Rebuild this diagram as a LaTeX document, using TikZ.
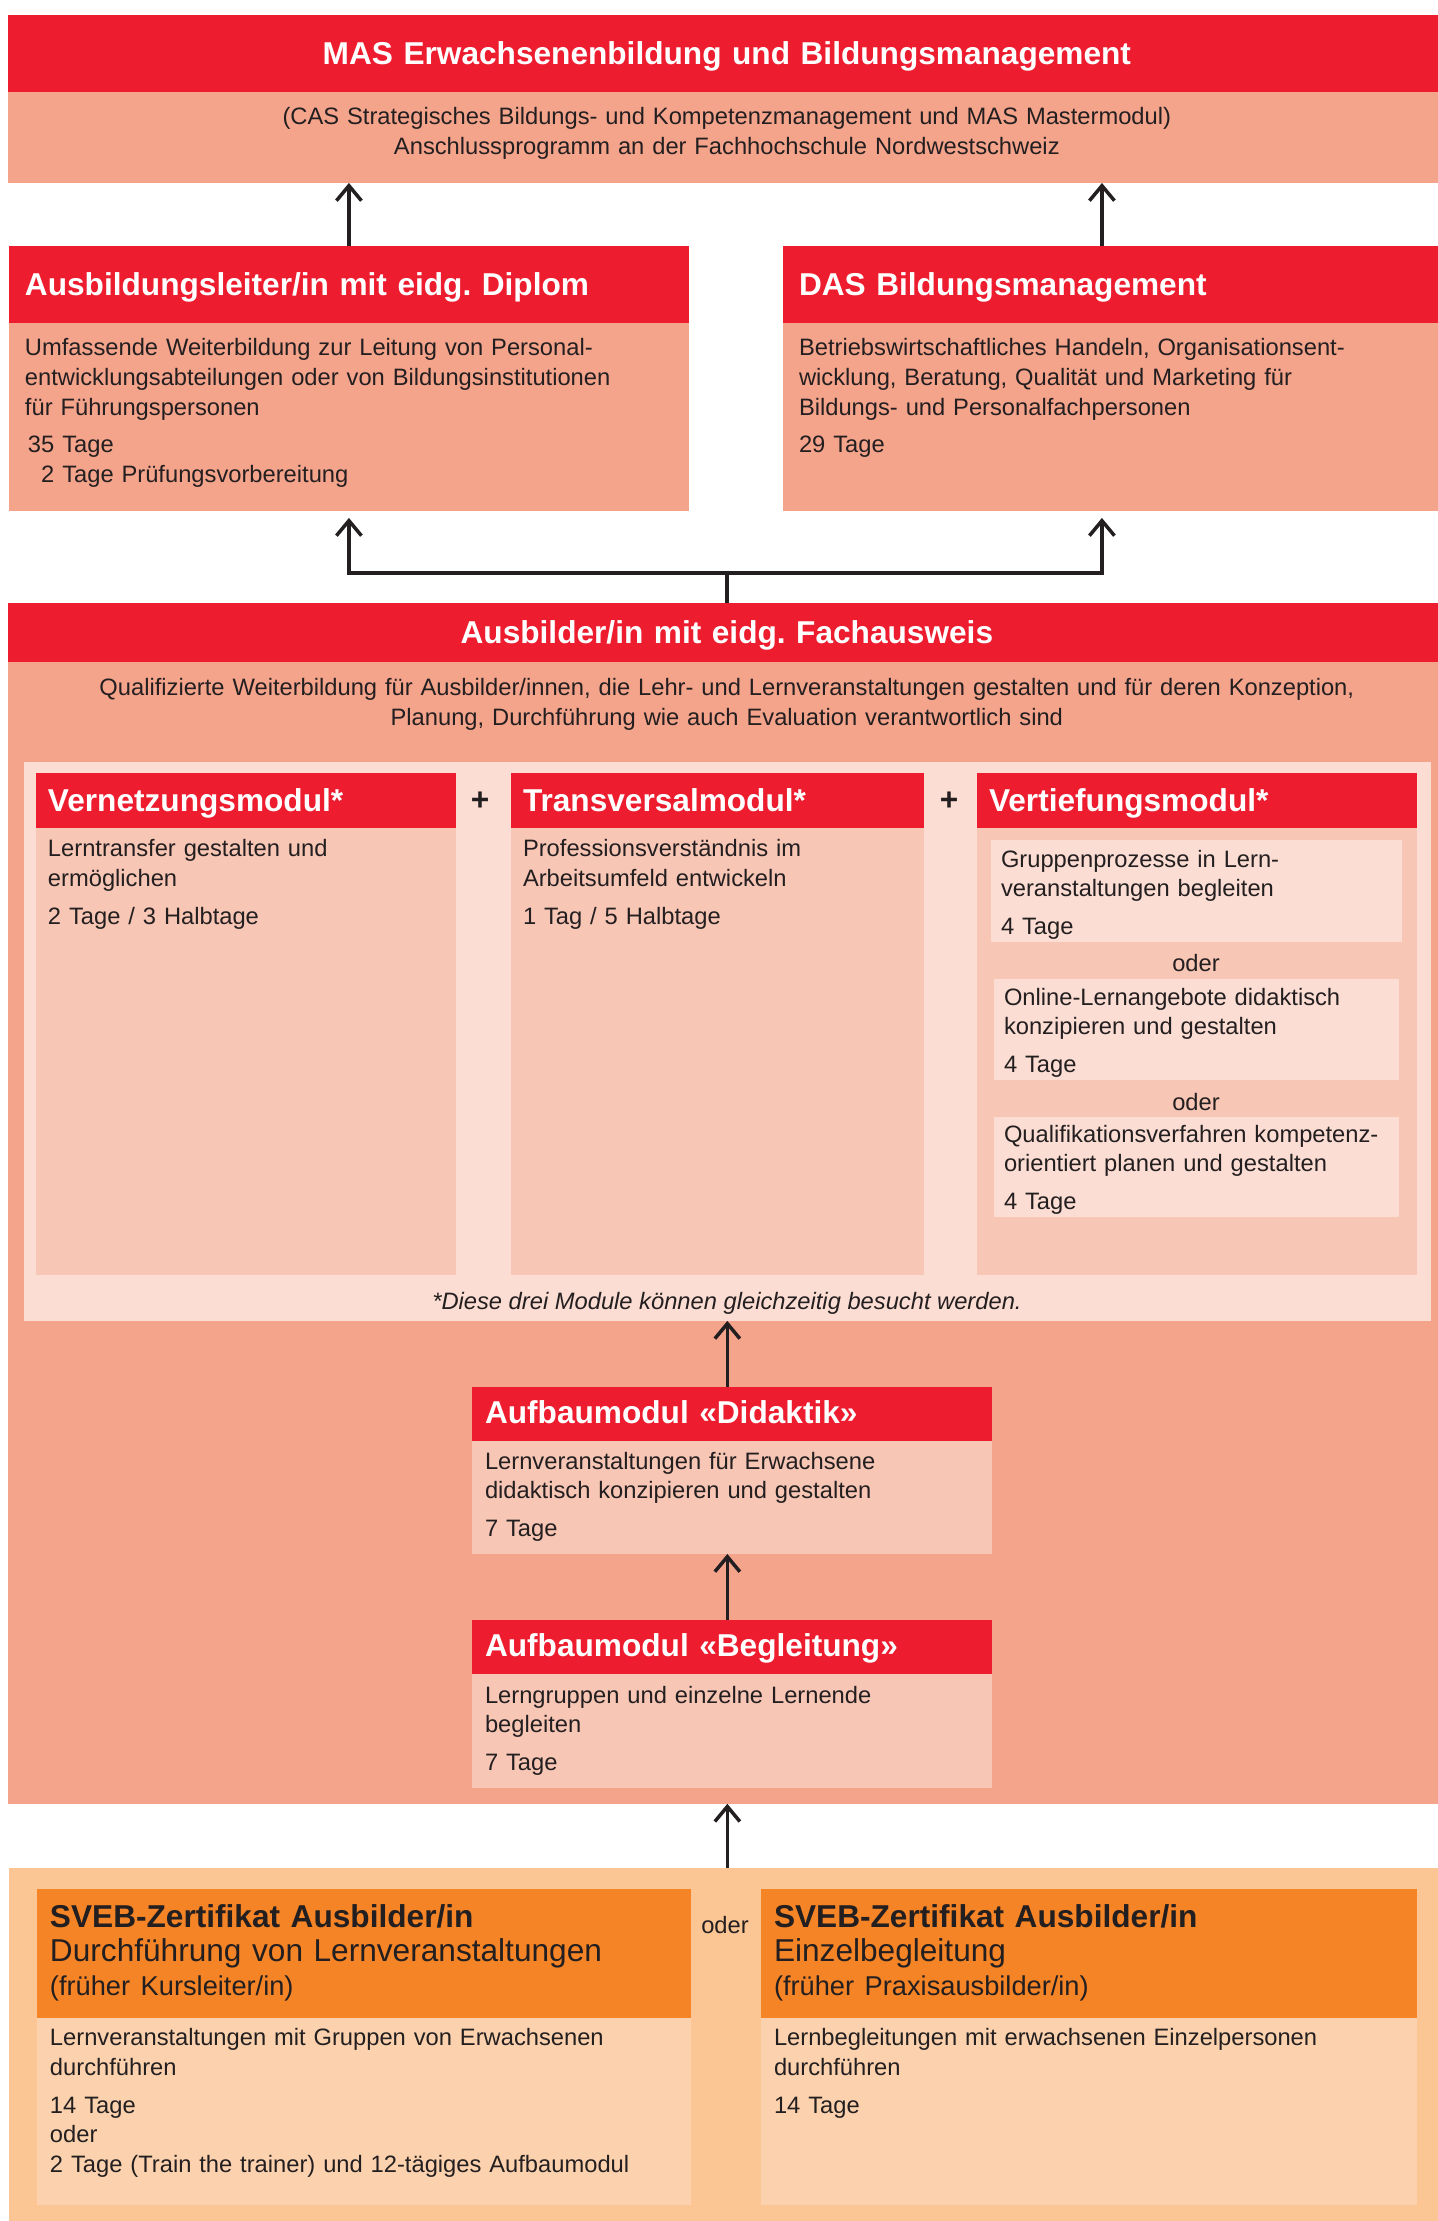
\documentclass[tikz,border=0pt]{standalone}
\usepackage{fontspec}
\setmainfont{Liberation Sans}
\usepackage{xcolor}
\usepackage{tikz}
\usetikzlibrary{arrows.meta}
\frenchspacing

\definecolor{sbred}{HTML}{ED1C2E}
\definecolor{salmon}{HTML}{F5A48C}
\definecolor{palepink}{HTML}{FCDDD3}
\definecolor{modpink}{HTML}{F8C6B5}
\definecolor{svebback}{HTML}{FBC594}
\definecolor{sveborange}{HTML}{F58426}
\definecolor{svebbody}{HTML}{FCD2AE}
\definecolor{ink}{HTML}{231F20}

\newcommand{\headfont}{\fontsize{18}{21}\selectfont\bfseries}
\newcommand{\bodyfont}{\fontsize{13.5}{16.8}\selectfont}

\tikzstyle{box} = [rectangle, anchor=north west, inner xsep=0pt, inner ysep=0pt, outer sep=0pt]
\tikzstyle{redhead} = [box, fill=sbred, text=white, font=\headfont, align=left]
\tikzstyle{redtitle} = [box, fill=sbred, text=white, font=\headfont, align=center]
\tikzstyle{bodytext} = [box, text=ink, font=\bodyfont, align=left]
\tikzstyle{svebhead} = [box, fill=sveborange, text=ink, font=\fontsize{18}{19.5}\selectfont, align=left]
\tikzstyle{plain} = [inner sep=0pt, text=ink, font=\bodyfont, anchor=base]
\tikzstyle{arrow} = [line width=0.07cm, draw=ink, -{Straight Barb[length=0.3cm, width=0.5cm]}]
\tikzstyle{stem} = [line width=0.07cm, draw=ink]

\begin{document}
\begin{tikzpicture}[x=0.02cm, y=-0.02cm]

        \fill [white] (0,0) rectangle (1437,2221);
        \useasboundingbox (0,0) rectangle (1437,2221);

        % MAS
        \node (mashead) [redtitle, text width=28.76cm, text height=1.0cm, text depth=0.54cm] at (8,15) {MAS Erwachsenenbildung und Bildungsmanagement};
        \node (masbody) [bodytext, fill=salmon, align=center, text width=28.76cm, text height=0.66cm, text depth=1.16cm] at (mashead.south west) {(CAS Strategisches Bildungs- und Kompetenzmanagement und MAS Mastermodul)\\Anschlussprogramm an der Fachhochschule Nordwestschweiz};

        % Diplom und DAS
        \node (ashead) [redhead, text width=12.96cm, inner xsep=0.32cm, text height=1.0cm, text depth=0.54cm] at (9,246) {Ausbildungsleiter/in mit eidg. Diplom};
        \node (asbody) [bodytext, fill=salmon, text width=12.96cm, inner xsep=0.32cm, text height=0.66cm, text depth=3.1cm] at (ashead.south west) {Umfassende Weiterbildung zur Leitung von Personal-\\entwicklungsabteilungen oder von Bildungsinstitutionen\\für Führungspersonen\\[4.8pt]\hspace*{1.7pt}35 Tage\\\hspace*{1.7pt}\phantom{3}2 Tage Prüfungsvorbereitung};
        \node (dashead) [redhead, text width=12.62cm, inner xsep=0.32cm, text height=1.0cm, text depth=0.54cm] at (783,246) {DAS Bildungsmanagement};
        \node (dasbody) [bodytext, fill=salmon, text width=12.62cm, inner xsep=0.32cm, text height=0.66cm, text depth=3.1cm] at (dashead.south west) {Betriebswirtschaftliches Handeln, Organisationsent-\\wicklung, Beratung, Qualität und Marketing für\\Bildungs- und Personalfachpersonen\\[4.8pt]29 Tage};

        % Fachausweis
        \node (fahead) [redtitle, text width=28.76cm, text height=0.8cm, text depth=0.38cm] at (8,603) {Ausbilder/in mit eidg. Fachausweis};
        \node (fabody) [bodytext, fill=salmon, align=center, text width=28.76cm, text height=0.68cm, text depth=22.16cm] at (fahead.south west) {Qualifizierte Weiterbildung für Ausbilder/innen, die Lehr- und Lernveranstaltungen gestalten und für deren Konzeption,\\Planung, Durchführung wie auch Evaluation verantwortlich sind};
        \node (panel) [box, fill=palepink, minimum width=28.14cm, minimum height=11.18cm] at (24,762) {};

        % Module
        \node (vzhead) [redhead, text width=7.92cm, inner xsep=0.24cm, text height=0.76cm, text depth=0.34cm] at (36,773) {Vernetzungsmodul*};
        \node (vzbody) [bodytext, fill=modpink, text width=7.92cm, inner xsep=0.24cm, text height=0.58cm, text depth=8.36cm] at (vzhead.south west) {Lerntransfer gestalten und\\ermöglichen\\[4.8pt]2 Tage / 3 Halbtage};
        \node (plusone) [plain, anchor=center, font=\headfont] at (480,801) {+};
        \node (tvhead) [redhead, text width=7.78cm, inner xsep=0.24cm, text height=0.76cm, text depth=0.34cm] at (511,773) {Transversalmodul*};
        \node (tvbody) [bodytext, fill=modpink, text width=7.78cm, inner xsep=0.24cm, text height=0.58cm, text depth=8.36cm] at (tvhead.south west) {Professionsverständnis im\\Arbeitsumfeld entwickeln\\[4.8pt]1 Tag / 5 Halbtage};
        \node (plustwo) [plain, anchor=center, font=\headfont] at (949,801) {+};
        \node (vthead) [redhead, text width=8.32cm, inner xsep=0.24cm, text height=0.76cm, text depth=0.34cm] at (977,773) {Vertiefungsmodul*};
        \node (vtbody) [box, fill=modpink, minimum width=8.8cm, minimum height=8.94cm] at (vthead.south west) {};
        \node (vtone) [bodytext, fill=palepink, text width=7.82cm, inner xsep=0.2cm, text height=0.54cm, text depth=1.5cm] at (991,840) {Gruppenprozesse in Lern-\\veranstaltungen begleiten\\[4.8pt]4 Tage};
        \node (oderone) [plain] at (1196,971) {oder};
        \node (vttwo) [bodytext, fill=palepink, text width=7.7cm, inner xsep=0.2cm, text height=0.52cm, text depth=1.5cm] at (994,979) {Online-Lernangebote didaktisch\\konzipieren und gestalten\\[4.8pt]4 Tage};
        \node (odertwo) [plain] at (1196,1110) {oder};
        \node (vtthree) [bodytext, fill=palepink, text width=7.7cm, inner xsep=0.2cm, text height=0.5cm, text depth=1.5cm] at (994,1117) {Qualifikationsverfahren kompetenz-\\orientiert planen und gestalten\\[4.8pt]4 Tage};
        \node (note) [plain, font=\bodyfont\itshape] at (727,1309) {*Diese drei Module können gleichzeitig besucht werden.};

        % Aufbaumodule
        \node (dihead) [redhead, text width=9.88cm, inner xsep=0.26cm, text height=0.72cm, text depth=0.36cm] at (472,1387) {Aufbaumodul «Didaktik»};
        \node (dibody) [bodytext, fill=modpink, text width=9.88cm, inner xsep=0.26cm, text height=0.56cm, text depth=1.7cm] at (dihead.south west) {Lernveranstaltungen für Erwachsene\\didaktisch konzipieren und gestalten\\[4.8pt]7 Tage};
        \node (bghead) [redhead, text width=9.88cm, inner xsep=0.26cm, text height=0.72cm, text depth=0.36cm] at (472,1620) {Aufbaumodul «Begleitung»};
        \node (bgbody) [bodytext, fill=modpink, text width=9.88cm, inner xsep=0.26cm, text height=0.58cm, text depth=1.7cm] at (bghead.south west) {Lerngruppen und einzelne Lernende\\begleiten\\[4.8pt]7 Tage};

        % SVEB
        \node (svback) [box, fill=svebback, minimum width=28.74cm, minimum height=7.4cm] at (9,1868) {};
        \node (svone) [svebhead, text width=12.56cm, inner xsep=0.26cm, text height=0.76cm, text depth=1.82cm] at (37,1889) {\textbf{SVEB-Zertifikat Ausbilder/in}\\Durchführung von Lernveranstaltungen\\{\fontsize{15.5}{18}\selectfont(früher Kursleiter/in)}};
        \node (svonebody) [bodytext, fill=svebbody, text width=12.56cm, inner xsep=0.26cm, text height=0.56cm, text depth=3.18cm] at (svone.south west) {Lernveranstaltungen mit Gruppen von Erwachsenen\\durchführen\\[4.8pt]14 Tage\\oder\\2 Tage (Train the trainer) und 12-tägiges Aufbaumodul};
        \node (svoder) [plain] at (725,1933) {oder};
        \node (svtwo) [svebhead, text width=12.6cm, inner xsep=0.26cm, text height=0.76cm, text depth=1.82cm] at (761,1889) {\textbf{SVEB-Zertifikat Ausbilder/in}\\Einzelbegleitung\\{\fontsize{15.5}{18}\selectfont(früher Praxisausbilder/in)}};
        \node (svtwobody) [bodytext, fill=svebbody, text width=12.6cm, inner xsep=0.26cm, text height=0.56cm, text depth=3.18cm] at (svtwo.south west) {Lernbegleitungen mit erwachsenen Einzelpersonen\\durchführen\\[4.8pt]14 Tage};

        % Arrows
        \draw [arrow] (ashead.north) -- (ashead.north |- masbody.south);
        \draw [arrow] ([xshift=-0.25cm]dashead.north) -- ([xshift=-0.25cm]dashead.north |- masbody.south);
        \draw [stem] (fahead.north) -- ++(0,-30) coordinate (fork);
        \draw [arrow, shorten >=0.14cm] (fork) -| (asbody.south);
        \draw [arrow, shorten >=0.14cm] (fork) -| ([xshift=-0.25cm]dasbody.south);
        \draw [arrow] (panel.south |- dihead.north) -- (panel.south);
        \draw [arrow] (panel.south |- bghead.north) -- (panel.south |- dibody.south);
        \draw [arrow] (panel.south |- svback.north) -- (panel.south |- fabody.south);

\end{tikzpicture}
\end{document}
